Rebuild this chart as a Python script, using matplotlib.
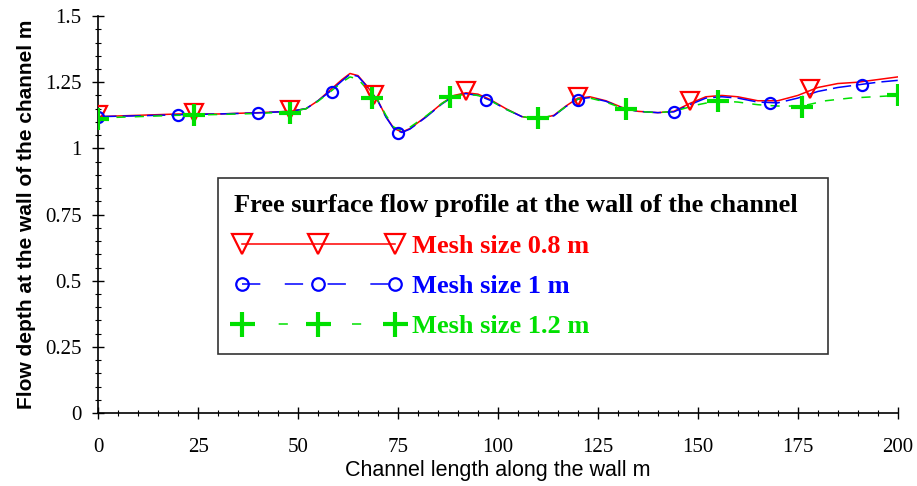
import matplotlib.pyplot as plt
from matplotlib.ticker import MultipleLocator, FuncFormatter

# line profiles (x in m, depth in m)
x_red = [0, 10, 20, 30, 40, 48, 52, 55, 58, 61, 63, 65, 67, 70, 72, 74, 76, 78, 82, 86, 89, 92,
         95, 98, 102, 106, 110, 114, 117, 120, 123, 127, 131, 135, 140, 144, 148, 152, 156, 160,
         165, 170, 175, 180, 185, 190, 195, 200]
y_red = [1.12, 1.125, 1.13, 1.13, 1.135, 1.14, 1.15, 1.18, 1.22, 1.26, 1.283, 1.275, 1.24, 1.18,
         1.12, 1.075, 1.062, 1.075, 1.12, 1.17, 1.2, 1.21, 1.205, 1.185, 1.15, 1.12, 1.11, 1.125,
         1.16, 1.19, 1.195, 1.18, 1.155, 1.14, 1.135, 1.14, 1.17, 1.195, 1.2, 1.195, 1.18, 1.18,
         1.2, 1.23, 1.245, 1.25, 1.26, 1.27]

x_blue = [0, 10, 20, 30, 40, 48, 52, 55, 58, 61, 63, 65, 67, 70, 72, 74, 76, 78, 82, 86, 89, 92,
          95, 98, 102, 106, 110, 114, 117, 120, 123, 127, 131, 135, 140, 144, 148, 152, 156, 160,
          165, 170, 175, 180, 185, 190, 195, 200]
y_blue = [1.12, 1.123, 1.127, 1.13, 1.134, 1.14, 1.15, 1.18, 1.215, 1.255, 1.28, 1.272, 1.238,
          1.178, 1.118, 1.073, 1.06, 1.073, 1.118, 1.168, 1.198, 1.207, 1.2, 1.182, 1.148, 1.12,
          1.11, 1.123, 1.158, 1.186, 1.192, 1.178, 1.153, 1.14, 1.135, 1.138, 1.165, 1.19, 1.195,
          1.19, 1.175, 1.172, 1.19, 1.215, 1.23, 1.24, 1.25, 1.257]

x_green = [0, 10, 20, 30, 40, 48, 52, 55, 58, 61, 63, 65, 67, 70, 72, 74, 76, 78, 82, 86, 89, 92,
           95, 98, 102, 106, 110, 114, 117, 120, 123, 127, 131, 135, 140, 144, 150, 155, 160, 165,
           170, 176, 182, 188, 194, 200]
y_green = [1.115, 1.12, 1.125, 1.128, 1.132, 1.138, 1.15, 1.178, 1.213, 1.25, 1.27, 1.262, 1.228,
           1.18, 1.125, 1.08, 1.068, 1.08, 1.122, 1.17, 1.198, 1.205, 1.2, 1.182, 1.148, 1.12,
           1.112, 1.125, 1.158, 1.186, 1.19, 1.175, 1.152, 1.14, 1.135, 1.14, 1.165, 1.18, 1.175,
           1.165, 1.16, 1.16, 1.18, 1.19, 1.195, 1.2]

# marker positions
mx_red = [0, 24, 48, 69, 92, 120, 148, 178]
my_red = [1.125, 1.135, 1.145, 1.2, 1.215, 1.195, 1.18, 1.225]
mx_blue = [0, 20, 40, 58.5, 75, 97, 120, 144, 168, 191]
my_blue = [1.12, 1.125, 1.135, 1.213, 1.058, 1.183, 1.183, 1.137, 1.17, 1.24]
mx_green = [0, 24, 48, 68.5, 88, 110, 132, 155, 176, 200]
my_green = [1.11, 1.125, 1.135, 1.19, 1.195, 1.115, 1.148, 1.18, 1.158, 1.2]

labels = ['Mesh size 0.8 m', 'Mesh size 1 m', 'Mesh size 1.2 m']
colors = ['#ff0000', '#0000ff', '#00e000']

fig = plt.figure(figsize=(9.17, 4.86), dpi=100)
ax = fig.add_axes([0.107, 0.150, 0.872, 0.817])

ax.plot(x_red, y_red, color=colors[0], lw=1.1, zorder=3)
ax.plot(x_blue, y_blue, color=colors[1], lw=1.1, dashes=(12, 4), zorder=3)
ax.plot(x_green, y_green, color=colors[2], lw=1.1, dashes=(6, 6), zorder=3)

ax.plot(mx_red, my_red, ls='none', marker='v', ms=13, mfc='none', mec=colors[0], mew=1.6, zorder=4)
ax.plot(mx_blue, my_blue, ls='none', marker='o', ms=8, mfc='none', mec=colors[1], mew=1.6, zorder=4)
ax.plot(mx_green, my_green, ls='none', marker='+', ms=16, mec=colors[2], mew=3, zorder=4)

# legend proxies
h_red, = ax.plot([], [], color=colors[0], lw=1.1, marker='v', ms=14, mfc='none', mew=1.6)
h_blue, = ax.plot([], [], color=colors[1], lw=1.1, dashes=(12, 16), marker='o', ms=9, mfc='none', mew=1.6)
h_green, = ax.plot([], [], color=colors[2], lw=1.1, dashes=(6, 18), marker='+', ms=18, mew=3)

serif = ['Liberation Serif', 'DejaVu Serif']
leg = ax.legend([h_red, h_blue, h_green], labels, loc='upper left',
                bbox_to_anchor=(0.15, 0.592, 0.7625, 0.0), mode='expand', borderaxespad=0,
                numpoints=3, handlelength=6.4, handletextpad=0.35, frameon=True, fancybox=False,
                edgecolor='black', borderpad=0.6, labelspacing=0.62,
                title='Free surface flow profile at the wall of the channel',
                prop={'family': serif, 'weight': 'bold', 'size': 19},
                title_fontproperties={'family': serif, 'weight': 'bold', 'size': 19})
leg.get_frame().set_linewidth(1.2)
leg._legend_box.align = 'left'
leg._legend_box.sep = 13
for t, c in zip(leg.get_texts(), colors):
    t.set_color(c)

ax.set_xlim(0, 200)
ax.set_ylim(0, 1.5)
ax.xaxis.set_major_locator(MultipleLocator(25))
ax.xaxis.set_minor_locator(MultipleLocator(5))
ax.yaxis.set_major_locator(MultipleLocator(0.25))
ax.yaxis.set_minor_locator(MultipleLocator(0.05))
ax.yaxis.set_major_formatter(FuncFormatter(lambda v, p: f'{v:g}'))

for s in ['top', 'right']:
    ax.spines[s].set_visible(False)
for s in ['left', 'bottom']:
    ax.spines[s].set_linewidth(1.2)

ax.tick_params(axis='both', which='major', direction='inout', length=8, width=1)
ax.tick_params(axis='both', which='minor', direction='inout', length=5, width=0.8)
ax.tick_params(axis='x', pad=14)
ax.tick_params(axis='y', pad=8)
for lbl in ax.get_xticklabels() + ax.get_yticklabels():
    lbl.set_family(serif)
    lbl.set_fontsize(15)

ax.set_xlabel('Channel length along the wall m', fontsize=15.5, family='Liberation Sans', labelpad=2)
ax.set_ylabel('Flow depth at the wall of the channel m', fontsize=15, family='Liberation Sans',
              fontweight='bold', labelpad=6)

fig.savefig('out.png', dpi=100)
